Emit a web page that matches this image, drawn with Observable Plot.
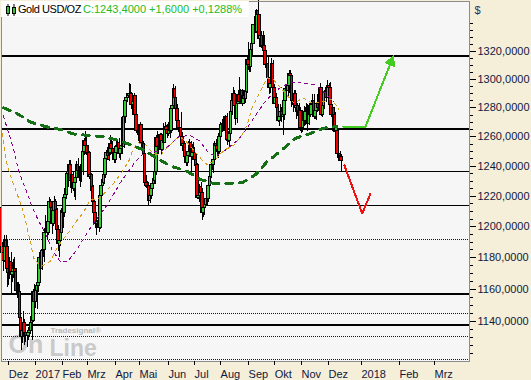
<!DOCTYPE html>
<html><head><meta charset="utf-8">
<script src="https://cdn.jsdelivr.net/npm/d3@7"></script>
<script src="https://cdn.jsdelivr.net/npm/@observablehq/plot@0.6"></script>
<style>
body{margin:0;background:#f5efd9;}
#wrap{position:relative;width:531px;height:380px;overflow:hidden}
#chart svg rect,#chart svg line,#chart svg path{shape-rendering:crispEdges}
#title{position:absolute;left:1px;top:1px;width:248px;height:16px;background:#fff;font:11px "Liberation Sans",Arial,sans-serif;white-space:nowrap}
#title span{position:absolute;top:2px}
</style></head><body>
<div id="wrap"><div id="chart"></div>
<div id="title"><svg width="12" height="12" style="position:absolute;left:4px;top:3px"><line x1="3" y1="0" x2="3" y2="12" stroke="#000"/><rect x="1.5" y="2.5" width="3" height="7" fill="#33cc33" stroke="#000"/><line x1="9" y1="0" x2="9" y2="12" stroke="#000"/><rect x="7.5" y="3.5" width="3" height="6" fill="#33cc33" stroke="#000"/></svg><span style="left:17px;color:#000;letter-spacing:-0.45px">Gold USD/OZ</span><span style="left:82px;color:#22bb22">C:1243,4000 +1,6000 +0,1288%</span></div>
</div>
<script>
// ---- data: daily candles, first one = trading-day slot -6 (23 Nov 2016) ----
const firstSlot = -6;
const open = [
1212,1187,1183,1178,1191,1187,
1173,1170,1177,1169,1171,1173,1171,1159,1159,1158,1142,1130,1134,1139,1133,1131,1131,1133,1134,1139,1140,1158,
1152,1159,1162,1164,1180,1173,1184,1185,1196,1196,1196,1203,1216,1212,1202,1210,1216,1211,1198,1189,1191,1196,
1210,1209,1219,1221,1235,1236,1241,1230,1234,1225,1229,1232,1241,1237,1237,1236,1236,1250,1257,1254,
1248,1249,1233,1234,1226,1216,1209,1202,1204,1203,1199,1220,1227,1229,1234,1245,1249,1247,1249,1255,1252,1249,1244,
1249,1253,1256,1248,1252,1254,1253,1274,1285,1287,1288,1290,1290,1282,1284,1288,1275,1264,1264,1264,
1268,1256,1255,1248,1229,1227,1227,1217,1220,1225,1228,1230,1236,1259,1253,1254,1261,1251,1257,1256,1267,1265,1262,
1268,1264,1279,1281,1293,1287,1279,1271,1266,1266,1260,1254,1255,1246,1242,1247,1250,1256,1246,1252,1249,1244,
1241,1219,1220,1226,1222,1209,1212,1214,1218,1218,1227,1233,1241,1241,1244,1255,1254,1251,1250,1260,1268,
1269,1269,1268,1274,1258,1257,1262,1277,1285,1290,1281,1272,1283,1289,1284,1292,1283,1288,1286,1291,1314,1310,1309,
1321,1325,1339,1339,1334,1349,1346,1329,1331,1323,1324,1320,1310,1311,1301,1294,1297,1311,1294,1283,1287,
1280,1271,1274,1277,1274,1275,1285,1293,1292,1295,1304,1302,1285,1282,1290,1280,1281,1277,1278,1266,1266,1277,
1271,1277,1277,1269,1281,1275,1282,1285,1274,1278,1283,1280,1278,1294,1275,1281,1291,1291,1287,1295,1294,1282,
1275,1280,1275,1263,1264,1248,1248,1246];
const high = [
1213,1190,1190,1194,1194,1191,
1179,1180,1183,1177,1179,1180,1173,1164,1164,1163,1142,1138,1146,1141,1137,1134,1136,1137,1143,1143,1160,1163,
1162,1164,1168,1183,1182,1186,1189,1199,1207,1200,1205,1219,1218,1212,1214,1220,1218,1212,1201,1194,1200,1212,
1213,1225,1222,1236,1238,1244,1244,1236,1236,1231,1238,1243,1245,1240,1241,1243,1253,1259,1264,1260,
1254,1250,1240,1235,1227,1217,1210,1207,1207,1205,1221,1231,1233,1236,1247,1251,1253,1251,1261,1258,1257,1252,1254,
1259,1258,1259,1254,1273,1256,1275,1287,1290,1289,1297,1296,1291,1287,1290,1288,1277,1271,1267,1270,
1268,1259,1257,1249,1234,1230,1229,1224,1228,1232,1236,1238,1261,1264,1258,1262,1262,1260,1269,1270,1268,1267,1270,
1270,1281,1283,1296,1295,1287,1282,1271,1268,1277,1263,1258,1257,1249,1249,1257,1258,1257,1255,1256,1253,1249,
1242,1227,1228,1229,1225,1215,1218,1225,1222,1233,1236,1244,1244,1246,1257,1258,1256,1262,1264,1270,1272,
1274,1272,1275,1276,1264,1265,1280,1286,1294,1292,1283,1285,1292,1301,1293,1293,1292,1292,1299,1316,1326,1313,1323,
1331,1339,1345,1344,1350,1357,1346,1334,1334,1334,1331,1320,1313,1317,1301,1301,1315,1313,1296,1290,1290,
1282,1277,1282,1280,1280,1288,1296,1295,1298,1306,1306,1303,1287,1292,1292,1284,1283,1283,1280,1270,1278,1281,
1280,1283,1282,1283,1283,1284,1289,1289,1283,1284,1289,1283,1297,1294,1284,1292,1294,1292,1299,1297,1298,1286,
1282,1280,1277,1268,1265,1252,1250,1248];
const low = [
1183,1180,1171,1177,1182,1161,
1162,1166,1157,1164,1167,1165,1156,1154,1154,1140,1122,1126,1130,1125,1127,1124,1128,1130,1132,1128,1139,1148,
1148,1147,1158,1163,1170,1172,1180,1177,1191,1192,1194,1200,1202,1195,1200,1206,1209,1196,1184,1180,1187,1193,
1199,1206,1210,1218,1226,1230,1225,1222,1223,1219,1217,1230,1232,1230,1226,1229,1234,1247,1250,1247,
1240,1231,1223,1225,1214,1206,1199,1194,1199,1196,1198,1218,1223,1228,1232,1242,1244,1243,1247,1248,1246,1242,1242,
1244,1249,1245,1244,1250,1248,1252,1269,1278,1284,1282,1283,1279,1275,1279,1266,1262,1261,1257,1262,
1253,1252,1246,1226,1225,1220,1214,1215,1218,1223,1226,1228,1234,1249,1248,1253,1248,1250,1253,1256,1262,1259,1260,
1259,1262,1277,1280,1282,1273,1268,1263,1260,1258,1250,1251,1244,1240,1240,1246,1248,1236,1244,1247,1240,1236,
1218,1218,1216,1218,1204,1206,1207,1213,1214,1216,1226,1232,1237,1235,1244,1251,1247,1245,1249,1258,1263,
1264,1264,1265,1254,1256,1252,1260,1275,1283,1279,1268,1269,1282,1283,1284,1281,1283,1283,1283,1290,1306,1305,1305,
1316,1325,1333,1333,1333,1345,1323,1326,1322,1319,1318,1308,1306,1299,1289,1290,1294,1292,1282,1280,1278,
1270,1267,1272,1270,1261,1271,1282,1285,1288,1290,1296,1280,1277,1280,1277,1272,1274,1274,1264,1262,1263,1267,
1268,1273,1264,1268,1273,1275,1279,1272,1272,1271,1277,1275,1277,1274,1273,1279,1288,1284,1287,1290,1281,1273,
1264,1272,1261,1259,1245,1243,1244,1236];
const close = [
1187,1183,1178,1191,1187,1173,
1170,1177,1169,1171,1173,1171,1159,1159,1158,1142,1130,1134,1139,1133,1131,1131,1133,1134,1139,1140,1158,1152,
1159,1162,1164,1180,1173,1184,1185,1196,1196,1196,1203,1216,1212,1202,1210,1216,1211,1198,1189,1191,1196,1210,
1209,1219,1221,1235,1236,1241,1230,1234,1225,1229,1232,1241,1237,1237,1236,1236,1250,1257,1254,1248,
1249,1233,1234,1226,1216,1209,1202,1204,1203,1199,1220,1227,1229,1234,1245,1249,1247,1244,1255,1252,1249,1244,1249,
1253,1256,1248,1252,1254,1253,1274,1285,1287,1288,1290,1290,1282,1284,1288,1275,1264,1264,1264,1268,
1256,1255,1248,1229,1227,1227,1217,1220,1225,1228,1230,1236,1259,1253,1254,1261,1251,1257,1256,1267,1265,1262,1268,
1264,1279,1281,1293,1287,1279,1271,1266,1266,1260,1254,1255,1246,1242,1247,1250,1256,1246,1252,1249,1244,1241,
1219,1220,1226,1222,1209,1212,1214,1218,1218,1227,1233,1241,1241,1244,1255,1254,1251,1250,1260,1268,1269,
1269,1268,1274,1258,1257,1262,1277,1285,1290,1281,1272,1283,1289,1284,1292,1283,1288,1286,1291,1314,1310,1309,1321,
1325,1339,1339,1334,1349,1346,1329,1331,1323,1324,1320,1310,1311,1301,1294,1297,1311,1294,1283,1287,1280,
1271,1274,1277,1274,1275,1285,1293,1292,1295,1304,1302,1285,1282,1290,1280,1281,1277,1278,1266,1266,1277,1271,
1277,1277,1269,1281,1275,1282,1285,1274,1278,1283,1280,1278,1294,1275,1281,1291,1291,1287,1295,1294,1282,1275,
1280,1275,1263,1266,1248,1248,1247,1243.4];

// moving averages: [trading-day slot, price]
const maFast = [[-5,1262],[-2,1244],[1,1235],[4,1228],[8,1219],[12,1209],[15,1199],[18,1189],[20,1180],[24,1176],[28,1175],[34,1178],[39,1186],[43,1191],[50,1198],[55,1204],[60,1209],[66,1218],[72,1218],[77,1222],[85,1229],[92,1237],[97,1244],[100,1251],[104,1256],[110,1255],[116,1249],[122,1247],[127,1252],[134,1258],[138,1260],[144,1256],[151,1249],[156,1244],[160,1241],[166,1244],[171,1249],[176,1252],[181,1254],[187,1260],[192,1268],[196,1280],[203,1292],[208,1301],[213,1300],[219,1294],[225,1288],[230,1283],[237,1287],[243,1284],[251,1284],[260,1286],[266,1279]];
const maMid = [[-6,1279],[-3,1271],[4,1252],[8,1237],[14,1224],[19,1213],[24,1204],[30,1195],[35,1185],[42,1177],[48,1178],[55,1185],[64,1197],[71,1205],[80,1215],[85,1222],[90,1229],[96,1236],[102,1243],[108,1248],[116,1250],[123,1250],[129,1254],[137,1260],[146,1261],[154,1257],[161,1249],[167,1247],[173,1250],[179,1254],[185,1258],[192,1266],[199,1275],[207,1285],[215,1292],[223,1296],[231,1298],[239,1297],[247,1296],[255,1290],[262,1284]];
const maSlow = [[-4,1280],[7,1276],[18,1270],[30,1267],[42,1265],[52,1262],[64,1261],[76,1260],[87,1258],[97,1255],[109,1251],[120,1245],[131,1240],[143,1237],[155,1231],[165,1228.5],[177,1228.5],[188,1229],[199,1234.5],[208,1243],[220,1251],[231,1259],[242,1262],[254,1266],[264,1267]];

// drawn levels and projections
const thickLevels = [1316.4, 1265.1, 1156.8, 1137.5];
const thinLevels = [1236.3, 1213.7];
const dottedLevels = [1191.5, 1144.6, 1130.4, 1116.4];
const upPath = [[269.6,1267.1],[287.4,1267.1],[308.0,1312.4]];
const upHead = [[308.0,1312.4]];
const downPath = [[270.4,1240.6],[284.7,1208.6],[291.4,1221.8]];

// axes
const yTicks = [1140,1160,1180,1200,1220,1240,1260,1280,1300,1320];
const yMinor = d3.range(1120, 1341, 5);
const xTickSlots = [-0.6,20.9,42.6,62.7,85.3,104.6,127.9,148.9,169.9,192.4,213.4,235,256.8,283.3,313.9,342.1];
const xTickLabels = ["Dez","2017","Feb","Mrz","Apr","Mai","Jun","Jul","Aug","Sep","Okt","Nov","Dez","2018","Feb","Mrz"];

const candles = close.map((c, i) => ({slot: firstSlot + i, o: open[i], h: high[i], l: low[i], c}));

const chart = Plot.plot({
  width: 531, height: 380,
  marginTop: 1, marginBottom: 19, marginLeft: 1, marginRight: 62,
  style: {background: "#f5efd9", fontFamily: "'Liberation Sans', Arial, sans-serif", fontSize: "11px", color: "#000", overflow: "visible"},
  x: {type: "linear", domain: [-5.7, 371.1]},
  y: {type: "log", domain: [1115.3, 1356.1]},
  marks: [
    Plot.frame({fill: "#f6f6f6", stroke: null}),
    Plot.text(["On"], {frameAnchor: "bottom-left", dx: 7, dy: -17, text: d => d, fontSize: 25, fontWeight: "bold", fill: "#c9c9c9", textAnchor: "start", lineAnchor: "middle"}),
    Plot.text(["Tradesignal®"], {frameAnchor: "bottom-left", dx: 49, dy: -31, text: d => d, fontSize: 8, fontWeight: "bold", fill: "#b8b8b8", textAnchor: "start", lineAnchor: "middle"}),
    Plot.text(["Line"], {frameAnchor: "bottom-left", dx: 48, dy: -13, text: d => d, fontSize: 23, fontWeight: "bold", fill: "#c9c9c9", textAnchor: "start", lineAnchor: "middle"}),
    Plot.ruleY(dottedLevels, {stroke: "#0000c8", strokeDasharray: "1,1"}),
    Plot.ruleY(thinLevels, {stroke: "#000", strokeWidth: 1}),
    Plot.ruleY(thickLevels, {stroke: "#000", strokeWidth: 2}),
    Plot.ruleX(candles, {x: "slot", y1: "l", y2: "h", stroke: "#000", strokeWidth: 1}),
    Plot.rect(candles, {x1: d => d.slot - 1, x2: d => d.slot + 1, y1: "o", y2: "c", fill: d => d.c >= d.o ? "#33cc33" : "#ee0000", stroke: "#000", strokeWidth: 1}),
    Plot.line(maMid, {x: d => d[0], y: d => d[1], stroke: "#8b008b", strokeWidth: 1, strokeDasharray: "3,4"}),
    Plot.line(maFast, {x: d => d[0], y: d => d[1], stroke: "#d49a1c", strokeWidth: 1, strokeDasharray: "3,4"}),
    Plot.line(maSlow, {x: d => d[0], y: d => d[1], stroke: "#157015", strokeWidth: 3, strokeDasharray: "7,7"}),
    Plot.line(upPath, {x: d => d[0], y: d => d[1], stroke: "#44cc22", strokeWidth: 2}),
    Plot.dot(upHead, {x: d => d[0], y: d => d[1], symbol: "triangle", r: 4.5, rotate: 21.6, fill: "#44cc22", stroke: null}),
    Plot.line(downPath, {x: d => d[0], y: d => d[1], stroke: "#ee1111", strokeWidth: 2}),
    Plot.frame({stroke: "#8c8c8c"}),
    Plot.axisY({anchor: "right", ticks: yMinor, tickSize: 3, tickFormat: () => "", label: null, stroke: "#000"}),
    Plot.axisY({anchor: "right", ticks: yTicks, tickSize: 6, tickPadding: 2, tickFormat: d => d.toFixed(4).replace(".", ","), label: null, fill: "#101840", stroke: "#000"}),
    Plot.text(["$"], {frameAnchor: "top-right", dx: 5, dy: 9, text: d => d, fill: "#253060", fontSize: 11, textAnchor: "start", lineAnchor: "middle"}),
    Plot.axisX({ticks: xTickSlots, tickSize: 4, tickPadding: 4.5, tickFormat: d => xTickLabels[xTickSlots.indexOf(d)], textAnchor: "start", dx: 1, label: null, fill: "#101840", stroke: "#000"})
  ]
});
document.getElementById("chart").appendChild(chart);
</script>
</body></html>
